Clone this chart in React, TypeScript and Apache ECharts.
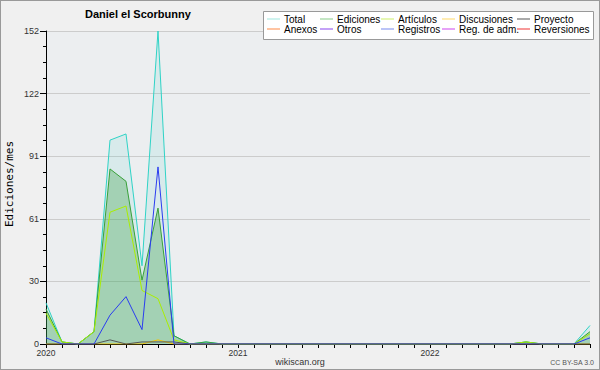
import React, { useEffect, useRef } from "react";
import * as echarts from "echarts";

const months: string[] = [];
for (let y = 2020; y <= 2022; y++) {
  for (let m = 1; m <= 12; m++) {
    if (y === 2022 && m > 11) break;
    months.push(`${y}-${String(m).padStart(2, "0")}`);
  }
}

const total = [20, 1, 0, 6, 99, 102, 38, 152, 4, 0, 1, 0, 0, 0, 0, 0, 0, 0, 0, 0, 0, 0, 0, 0, 0, 0, 0, 0, 0, 0, 1, 0, 0, 0, 9];
const ediciones = [17, 1, 0, 6, 85, 79, 31, 66, 4, 0, 1, 0, 0, 0, 0, 0, 0, 0, 0, 0, 0, 0, 0, 0, 0, 0, 0, 0, 0, 0, 1, 0, 0, 0, 6];
const articulos = [15, 1, 0, 6, 64, 67, 26, 22, 2, 0, 0, 0, 0, 0, 0, 0, 0, 0, 0, 0, 0, 0, 0, 0, 0, 0, 0, 0, 0, 0, 1, 0, 0, 0, 5];
const discusiones = [0, 0, 0, 0, 0, 0, 0, 2, 0, 0, 0, 0, 0, 0, 0, 0, 0, 0, 0, 0, 0, 0, 0, 0, 0, 0, 0, 0, 0, 0, 0, 0, 0, 0, 0];
const proyecto = [0, 0, 0, 0, 2, 0, 1, 1, 1, 0, 0, 0, 0, 0, 0, 0, 0, 0, 0, 0, 0, 0, 0, 0, 0, 0, 0, 0, 0, 0, 0, 0, 0, 0, 0];
const registros = [3, 0, 0, 0, 14, 23, 7, 86, 0, 0, 0, 0, 0, 0, 0, 0, 0, 0, 0, 0, 0, 0, 0, 0, 0, 0, 0, 0, 0, 0, 0, 0, 0, 0, 3];
const anexos: number[] = [];
const otros: number[] = [];
const regAdm: number[] = [];
const reversiones: number[] = [];

const legendRow1 = ["Total", "Ediciones", "Artículos", "Discusiones", "Proyecto"];
const legendRow2 = ["Anexos", "Otros", "Registros", "Reg. de adm.", "Reversiones"];
const yTicks = [0, 30, 61, 91, 122, 152];

const lineColors: Record<string, string> = {
  Total: "#2fd3c6",
  Ediciones: "#38a038",
  "Artículos": "#aaee00",
  Discusiones: "#f5c400",
  Proyecto: "#555555",
  Anexos: "#ff7733",
  Otros: "#7733ee",
  Registros: "#2a3cf0",
  "Reg. de adm.": "#cc33ee",
  Reversiones: "#ee2222",
};
const legendColors: Record<string, string> = {
  Total: "#9fe6df",
  Ediciones: "#88cc88",
  "Artículos": "#ccee66",
  Discusiones: "#ffd966",
  Proyecto: "#555555",
  Anexos: "#ff8844",
  Otros: "#8844ee",
  Registros: "#7788ee",
  "Reg. de adm.": "#cc44ee",
  Reversiones: "#ee3333",
};

const seriesData: [string, number[]][] = [
  ["Total", total],
  ["Ediciones", ediciones],
  ["Artículos", articulos],
  ["Discusiones", discusiones],
  ["Proyecto", proyecto],
  ["Anexos", anexos],
  ["Otros", otros],
  ["Registros", registros],
  ["Reg. de adm.", regAdm],
  ["Reversiones", reversiones],
];

const FONT = "'Liberation Sans', Arial, sans-serif";

export default function App() {
  const ref = useRef<HTMLDivElement>(null);
  useEffect(() => {
    if (!ref.current) return;
    const chart = echarts.init(ref.current, undefined, { renderer: "svg" });
    const colX = [267, 320, 381, 442, 517];
    const legends = colX.map((x, i) => ({
      orient: "vertical",
      left: x,
      top: 14,
      padding: 0,
      itemGap: 0,
      itemWidth: 13,
      itemHeight: 1,
      icon: "rect",
      selectedMode: false,
      z: 12,
      textStyle: { fontFamily: FONT, fontSize: 10, color: "#000", lineHeight: 10, padding: [0, 0, 0, -1] },
      data: [legendRow1[i], legendRow2[i]].map((n) => ({
        name: n,
        itemStyle: { color: legendColors[n] },
      })),
    }));

    const series = seriesData.map(([name, data]) => {
      const s: any = {
        name,
        type: "line",
        data,
        symbol: "none",
        lineStyle: { width: 1, color: lineColors[name] },
        itemStyle: { color: lineColors[name] },
        emphasis: { disabled: true },
      };
      if (name === "Total") s.areaStyle = { color: "rgba(47,211,198,0.15)" };
      if (name === "Ediciones") s.areaStyle = { color: "rgba(60,160,70,0.48)" };
      return s;
    });

    chart.setOption({
      animation: false,
      backgroundColor: "#f0f0f0",
      title: {
        text: "Daniel el Scorbunny",
        left: 85,
        top: 8,
        padding: 0,
        textStyle: { fontFamily: FONT, fontSize: 11, fontWeight: "bold", color: "#000" },
      },
      legend: legends,
      grid: {
        left: 46,
        right: 10,
        top: 31,
        bottom: 26,
        show: true,
        backgroundColor: "#eceef0",
        borderWidth: 0,
      },
      xAxis: {
        type: "category",
        data: months,
        boundaryGap: false,
        axisLine: { lineStyle: { color: "#000", width: 1 } },
        axisTick: { interval: 0, length: 4, lineStyle: { color: "#000" } },
        axisLabel: {
          interval: 0,
          margin: 4,
          fontFamily: FONT,
          fontSize: 8.5,
          color: "#333",
          formatter: (v: string) => (v.endsWith("-01") ? v.slice(0, 4) : ""),
        },
        splitLine: { show: false },
      },
      yAxis: {
        type: "value",
        min: 0,
        max: yTicks[yTicks.length - 1],
        interval: yTicks[yTicks.length - 1] / 5,
        axisLine: { show: true, lineStyle: { color: "#000", width: 1 } },
        axisTick: { show: true, length: 6, lineStyle: { color: "#000" } },
        minorTick: { show: true, splitNumber: 4, length: 3, lineStyle: { color: "#000" } },
        axisLabel: {
          margin: 7,
          fontFamily: FONT,
          fontSize: 9,
          color: "#333",
          formatter: (v: number) => String(Math.round(v)),
        },
        splitLine: { show: true, lineStyle: { color: "#cccccc", width: 1 } },
      },
      graphic: [
        {
          type: "rect",
          z: 10,
          shape: { x: 263.5, y: 11.5, width: 330, height: 28 },
          style: { fill: "#ffffff", stroke: "#999999", lineWidth: 1 },
        },
        {
          type: "text",
          x: 9,
          y: 184,
          rotation: Math.PI / 2,
          style: {
            text: "Ediciones/mes",
            fontFamily: "'DejaVu Sans Mono', monospace",
            fontSize: 11,
            fill: "#000",
            align: "center",
            verticalAlign: "middle",
          },
        },
        {
          type: "text",
          x: 300,
          y: 362,
          style: {
            text: "wikiscan.org",
            fontFamily: FONT,
            fontSize: 9,
            fill: "#333",
            align: "center",
            verticalAlign: "middle",
          },
        },
        {
          type: "text",
          x: 594,
          y: 362,
          style: {
            text: "CC BY-SA 3.0",
            fontFamily: FONT,
            fontSize: 7,
            fill: "#555",
            align: "right",
            verticalAlign: "middle",
          },
        },
      ],
      series,
    });
    return () => chart.dispose();
  }, []);
  return (
    <div style={{ position: "fixed", left: 0, top: 0, width: 600, height: 370 }}>
      <div ref={ref} style={{ width: 600, height: 370 }} />
      <div
        style={{
          position: "absolute",
          left: 0,
          top: 0,
          width: 600,
          height: 370,
          boxSizing: "border-box",
          border: "1px solid #999",
          pointerEvents: "none",
        }}
      />
    </div>
  );
}
